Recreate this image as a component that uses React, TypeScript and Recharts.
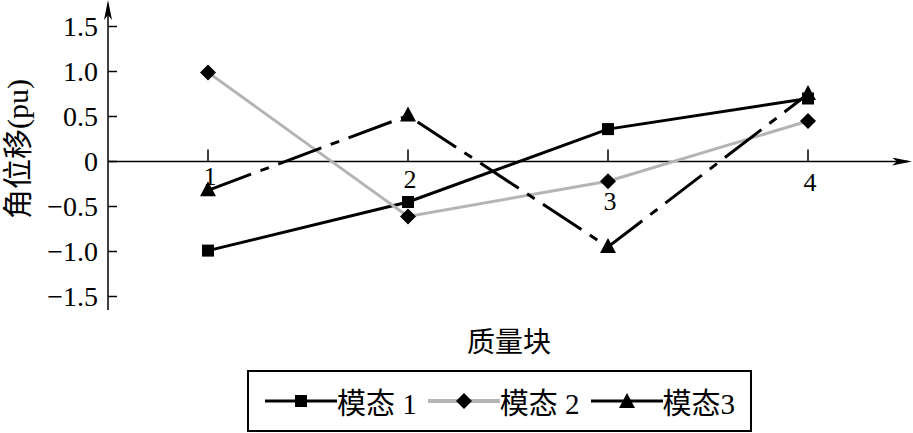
import React from "react";
import {
  LineChart,
  Line,
  XAxis,
  YAxis,
  ReferenceLine,
  ReferenceDot,
  Legend,
} from "recharts";

// 质量块编号
const blocks = [1, 2, 3, 4];
// 各模态角位移 (pu)
const mode1 = [-0.99, -0.45, 0.36, 0.7];
const mode2 = [0.99, -0.61, -0.22, 0.45];
const mode3 = [-0.32, 0.51, -0.95, 0.75];
const yTicks = [-1.5, -1, -0.5, 0, 0.5, 1, 1.5];
const seriesNames = ["模态 1", "模态 2", "模态3"];

const data = blocks.map((b, i) => ({
  block: b,
  m1: mode1[i],
  m2: mode2[i],
  m3: mode3[i],
}));

const SERIF = "'Liberation Serif', 'Noto Sans CJK SC', serif";
const GRAY = "#b4b4b4";
// x tick label drop below the zero line (as printed)
const xLabelDy = [15, 18, 40, 21];

type Kind = "square" | "diamond" | "triangle";

const series: { key: string; name: string; color: string; dash?: string; kind: Kind }[] = [
  { key: "m1", name: seriesNames[0], color: "#000", kind: "square" },
  { key: "m2", name: seriesNames[1], color: GRAY, kind: "diamond" },
  { key: "m3", name: seriesNames[2], color: "#000", dash: "46 10 9 10", kind: "triangle" },
];

const Mark = ({ kind, cx, cy }: { kind: Kind; cx: number; cy: number }) => {
  if (kind === "square")
    return <rect x={cx - 6} y={cy - 6} width={12} height={12} fill="#000" />;
  if (kind === "diamond")
    return (
      <polygon
        points={`${cx},${cy - 8} ${cx + 8},${cy} ${cx},${cy + 8} ${cx - 8},${cy}`}
        fill="#000"
      />
    );
  return (
    <polygon
      points={`${cx},${cy - 9} ${cx + 8},${cy + 6} ${cx - 8},${cy + 6}`}
      fill="#000"
    />
  );
};

const fmtY = (v: number) => (v === 0 ? "0" : (v < 0 ? "\u2212" : "") + Math.abs(v).toFixed(1));

const YTick = (props: any) => {
  const { x, y, payload } = props;
  return (
    <g>
      <line x1={x} y1={y} x2={x + 9} y2={y} stroke="#000" strokeWidth={1.5} />
      <text x={x - 10} y={y} dy="0.35em" textAnchor="end" fontSize={28} fontFamily={SERIF} fill="#000">
        {fmtY(payload.value)}
      </text>
    </g>
  );
};

const YTitle = (props: any) => {
  const vb = props.viewBox;
  const cx = vb.x + 17;
  const cy = vb.y + vb.height / 2 - 8;
  return (
    <text
      x={cx}
      y={cy}
      transform={`rotate(-90, ${cx}, ${cy})`}
      textAnchor="middle"
      dominantBaseline="central"
      fontSize={30}
      fontFamily={SERIF}
      fill="#000"
    >
      角位移(pu)
    </text>
  );
};

const XTitle = (props: any) => {
  const vb = props.viewBox;
  return (
    <text
      x={vb.x + vb.width / 2 + 1}
      y={vb.y + 32}
      textAnchor="middle"
      dominantBaseline="central"
      fontSize={28}
      fontFamily={SERIF}
      fill="#000"
    >
      质量块
    </text>
  );
};

const LegendBox = () => (
  <div
    style={{
      boxSizing: "border-box",
      width: "100%",
      height: "100%",
      border: "2px solid #000",
      display: "flex",
      alignItems: "center",
      paddingLeft: 16,
      fontFamily: SERIF,
      fontSize: 29,
      color: "#000",
    }}
  >
    {series.map((s) => (
      <div key={s.key} style={{ display: "flex", alignItems: "center", marginRight: 11 }}>
        <svg width={72} height={20}>
          <line x1={0} y1={10} x2={72} y2={10} stroke={s.color} strokeWidth={s.color === GRAY ? 4 : 3} />
          <Mark kind={s.kind} cx={36} cy={s.kind === "triangle" ? 11 : 10} />
        </svg>
        <span style={{ whiteSpace: "pre" }}>{s.name}</span>
      </div>
    ))}
  </div>
);

export default function App() {
  return (
    <div style={{ position: "absolute", left: 0, top: 0, background: "#fff" }}>
      <svg width={0} height={0} style={{ position: "absolute" }}>
        <defs>
          <marker
            id="arrowHead"
            viewBox="0 0 20 8"
            markerWidth={20}
            markerHeight={8}
            refX={16}
            refY={4}
            orient="auto-start-reverse"
            markerUnits="userSpaceOnUse"
          >
            <path d="M0,0 L20,4 L0,8 L5,4 Z" fill="#000" />
          </marker>
        </defs>
      </svg>
      <LineChart
        width={913}
        height={433}
        data={data}
        margin={{ top: 4, right: 5, bottom: 0, left: 0 }}
      >
        <XAxis
          dataKey="block"
          type="number"
          domain={[0.5, 4.5]}
          ticks={blocks}
          height={123}
          tick={false}
          tickLine={false}
          axisLine={false}
          label={<XTitle />}
        />
        <YAxis
          type="number"
          domain={[-1.65, 1.75]}
          ticks={yTicks}
          interval={0}
          width={108}
          tickSize={0}
          tickMargin={0}
          tickLine={false}
          axisLine={{ stroke: "#000", strokeWidth: 1.5, markerStart: "url(#arrowHead)" }}
          tick={<YTick />}
          label={<YTitle />}
        />
        <ReferenceLine
          segment={[
            { x: 0.5, y: 0 },
            { x: 4.5, y: 0 },
          ]}
          stroke="#000"
          strokeWidth={1.5}
          markerEnd="url(#arrowHead)"
        />
        {blocks.map((b, i) => (
          <ReferenceDot
            key={b}
            x={b}
            y={0}
            r={1}
            shape={(p: any) => (
              <g>
                <line x1={p.cx} y1={p.cy} x2={p.cx} y2={p.cy - 12} stroke="#000" strokeWidth={1.5} />
                <text
                  x={p.cx + 2}
                  y={p.cy + xLabelDy[i]}
                  textAnchor="middle"
                  dominantBaseline="central"
                  fontSize={26}
                  fontFamily={SERIF}
                  fill="#000"
                >
                  {b}
                </text>
              </g>
            )}
          />
        ))}
        {series.map((s) => (
          <Line
            key={s.key}
            dataKey={s.key}
            name={s.name}
            type="linear"
            stroke={s.color}
            strokeWidth={3}
            strokeDasharray={s.dash}
            isAnimationActive={false}
            dot={(p: any) => <Mark key={`${s.key}-${p.index}`} kind={s.kind} cx={p.cx} cy={p.cy} />}
            activeDot={false}
          />
        ))}
        <Legend
          verticalAlign="middle"
          align="center"
          content={<LegendBox />}
          wrapperStyle={{ left: 247, top: 370, width: 505, height: 62 }}
        />
      </LineChart>
    </div>
  );
}
